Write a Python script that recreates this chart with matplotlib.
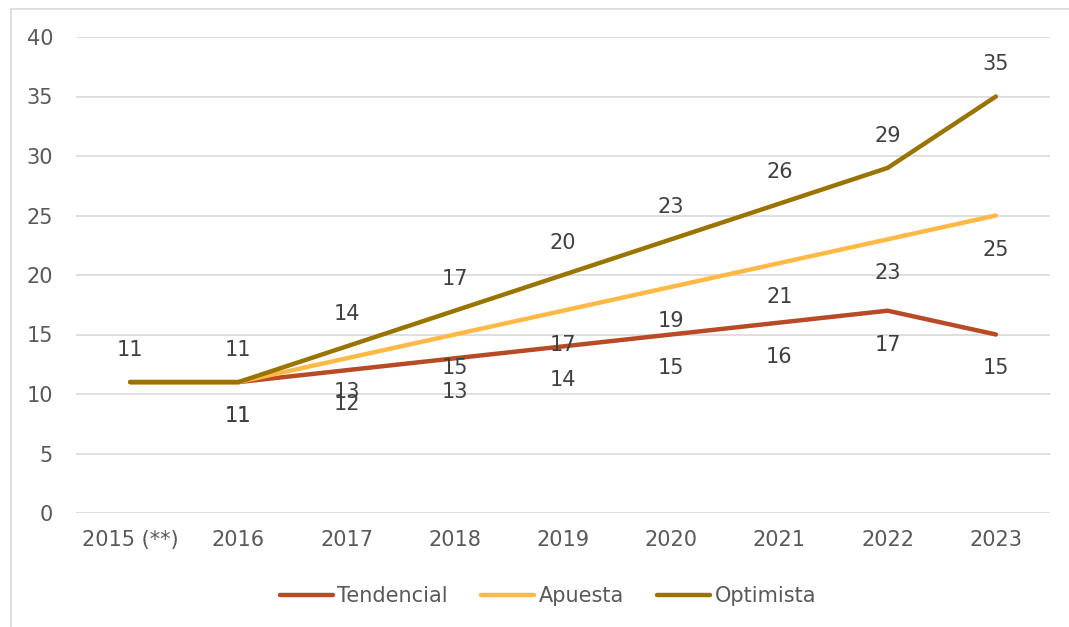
import matplotlib
matplotlib.use("Agg")
import matplotlib.pyplot as plt
from matplotlib.lines import Line2D

years = ["2015 (**)", "2016", "2017", "2018", "2019", "2020", "2021", "2022", "2023"]
tendencial = [11, 11, 12, 13, 14, 15, 16, 17, 15]
apuesta = [11, 11, 13, 15, 17, 19, 21, 23, 25]
optimista = [11, 11, 14, 17, 20, 23, 26, 29, 35]
yticks = [0, 5, 10, 15, 20, 25, 30, 35, 40]

series = [
    ("Tendencial", tendencial, "#B84A26", -34, True),
    ("Apuesta", apuesta, "#FFB946", -34, True),
    ("Optimista", optimista, "#9A7400", 32, False),
]

plt.rcParams['font.family'] = ['DejaVu Sans']
fig = plt.figure(figsize=(10.69, 6.27), dpi=100)
fx, fy = 10.5/1069, 1 - 8.5/627
fig.lines.append(Line2D([fx, fx], [0, fy], transform=fig.transFigure, color="#D9D9D9", linewidth=1.2))
fig.lines.append(Line2D([fx, 1], [fy, fy], transform=fig.transFigure, color="#D9D9D9", linewidth=1.2))
ax = fig.add_axes([76/1069, 1 - 513/627, (1050 - 76)/1069, (513 - 37)/627])

x = list(range(len(years)))
for name, vals, color, off, skip_first in series:
    ax.plot(x, vals, color=color, linewidth=3.2, solid_capstyle='round',
            solid_joinstyle='round', label=name, zorder=3)
for name, vals, color, off, skip_first in series:
    for i, v in enumerate(vals):
        if skip_first and i == 0:
            continue
        ax.annotate(str(v), (i, v), textcoords='offset pixels', xytext=(0, off),
                    ha='center', va='center', fontsize=15, color='#404040', zorder=4)

ax.set_xlim(-0.5, len(years) - 0.5)
ax.set_ylim(0, 40)
ax.set_yticks(yticks)
ax.set_xticks(x)
ax.set_xticklabels(years)
ax.grid(axis='y', color='#D9D9D9', linewidth=1.2)
ax.set_axisbelow(True)
for s in ax.spines.values():
    s.set_visible(False)
ax.tick_params(axis='both', length=0, labelsize=15, colors='#595959')
ax.tick_params(axis='y', pad=16.5)
ax.tick_params(axis='x', pad=12)

leg = fig.legend(loc='center', bbox_to_anchor=(548/1069, 1 - 596/627), ncol=3, frameon=False,
                 fontsize=15, handlelength=2.55, handletextpad=0.2, columnspacing=1.6)
for t in leg.get_texts():
    t.set_color('#595959')

fig.savefig("out.png", dpi=100)
